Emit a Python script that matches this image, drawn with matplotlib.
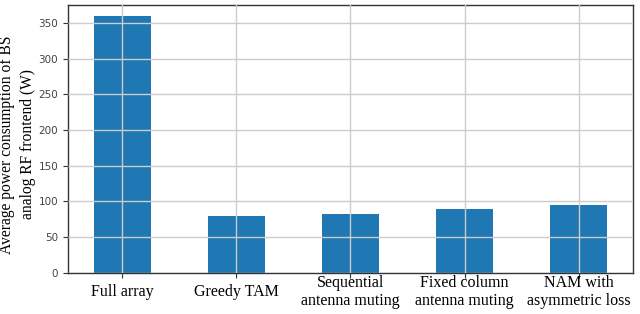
import matplotlib
matplotlib.use("Agg")
import matplotlib.pyplot as plt

categories = ["Full array", "Greedy TAM", "Sequential\nantenna muting",
              "Fixed column\nantenna muting", "NAM with\nasymmetric loss"]
power_w = [359, 80, 83, 89, 95.5]
y_ticks = [0, 50, 100, 150, 200, 250, 300, 350]

fig = plt.figure(figsize=(6.4, 3.14), dpi=100)
ax = fig.add_axes([0.106, 0.131, 0.883, 0.853])
x = list(range(len(categories)))
ax.bar(x, power_w, width=0.5, color="#1f77b4", zorder=2)
ax.set_xticks(x)
ax.set_xticklabels(categories, family="Liberation Serif", fontsize=11.5,
                   linespacing=1.15, va="center")
ax.set_yticks(y_ticks)
ax.set_ylim(0, 375)
ax.tick_params(axis="y", labelsize=7.5, labelcolor="#444444", length=3.5, color="#333333")
ax.tick_params(axis="x", length=3.5, color="#333333", pad=10.5)
ax.grid(True, color="#cccccc", linewidth=1.0, zorder=0)
ax.set_axisbelow(False)
for s in ax.spines.values():
    s.set_color("#333333")
    s.set_linewidth(1.0)
ax.set_ylabel("Average power consumption of BS\nanalog RF frontend (W)",
              family="Liberation Serif", fontsize=11.2, linespacing=1.45)
ax.yaxis.set_label_coords(-0.056, 0.48)
fig.savefig("out.png", dpi=100)
